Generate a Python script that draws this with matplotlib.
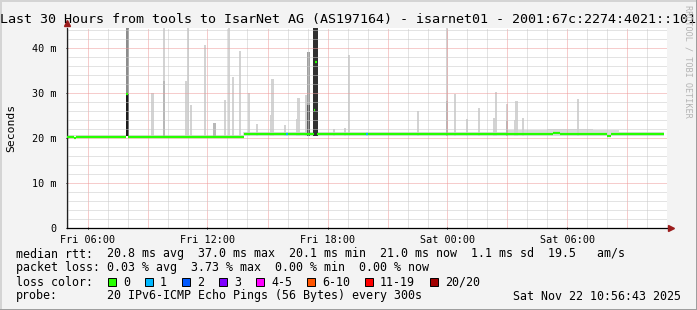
import numpy as np
import matplotlib
matplotlib.use("Agg")
import matplotlib.pyplot as plt
from matplotlib.patches import Rectangle
from matplotlib.lines import Line2D

W, H = 697, 310
MONO = "DejaVu Sans Mono"

title = "Last 30 Hours from tools to IsarNet AG (AS197164) - isarnet01 - 2001:67c:2274:4021::101"

# x axis: hours since Fri 00:00
x_ticks = [6, 12, 18, 24, 30]
x_labels = ["Fri 06:00", "Fri 12:00", "Fri 18:00", "Sat 00:00", "Sat 06:00"]
y_ticks = [0, 10, 20, 30, 40]
y_labels = ["0", "10 m", "20 m", "30 m", "40 m"]

# median rtt (ms), step segments: value med_v[i] from med_t[i] to med_t[i+1]
med_t = [4.96, 5.30, 5.42, 7.94, 8.02, 13.82, 17.31, 17.39, 17.47, 29.28, 29.62, 32.00, 32.20, 34.83]
med_v = [20.3, 20.1, 20.3, 29.8, 20.3, 20.9, 26.3, 37.0, 20.9, 21.2, 20.9, 20.6, 20.9]

# samples with 1 lost ping
loss1_t = [15.98, 19.99]
loss1_v = [20.9, 20.9]

# light smoke band just above the median
band_t = [4.96, 8.1, 13.8, 19.5, 22.0, 27.0, 29.0, 31.3, 32.6, 34.83]
band_top = [20.7, 20.8, 21.3, 21.4, 21.5, 21.9, 22.1, 21.8, 21.4]

# smoke spikes (outlier pings)
spike_t = [9.26, 9.83, 10.93, 11.03, 11.18, 11.88, 12.35, 12.88, 13.08, 13.28,
           13.63, 14.08, 14.48, 15.18, 15.25, 15.88, 16.50, 16.55, 16.93, 18.33,
           18.88, 19.08, 22.53, 23.98, 24.38, 24.98, 25.58, 26.35, 26.42, 26.98,
           27.40, 27.45, 27.78, 30.53]
spike_top = [30.0, 44.5, 32.7, 44.5, 27.5, 40.7, 23.3, 28.5, 44.5, 33.6,
             39.3, 30.0, 23.1, 25.1, 33.2, 23.0, 24.2, 29.0, 29.6, 22.0,
             22.3, 38.4, 26.0, 44.5, 29.9, 24.3, 26.7, 24.5, 30.2, 27.7,
             24.0, 28.2, 24.6, 28.7]
spike_mid = [0, 32.8, 0, 0, 0, 0, 23.3, 0, 0, 0,
             0, 0, 0, 0, 0, 0, 0, 0, 0, 0,
             0, 0, 0, 28.2, 0, 0, 0, 0, 0, 23.8,
             0, 0, 0, 0]

# dense / lossy columns
col_t = [7.98, 17.03, 17.35, 17.45]
col_low = [29.8, 27.3, 44.5, 44.5]
col_top = [44.5, 39.2, 44.5, 44.5]

loss_names = ["0", "1", "2", "3", "4-5", "6-10", "11-19", "20/20"]
loss_colors = ["#26ff00", "#00b8ff", "#0059ff", "#7e00ff", "#ff00ff", "#ff5500", "#ff0000", "#a10000"]

stat_lines = [
    ("median rtt:", "20.8 ms avg  37.0 ms max  20.1 ms min  21.0 ms now  1.1 ms sd  19.5   am/s"),
    ("packet loss:", "0.03 % avg  3.73 % max  0.00 % min  0.00 % now"),
]
probe_text = "20 IPv6-ICMP Echo Pings (56 Bytes) every 300s"
stamp = "Sat Nov 22 10:56:43 2025"


def fx(x):
    return x / W


def fy(y):
    return 1 - y / H


fig = plt.figure(figsize=(W / 100, H / 100), dpi=100, facecolor="#f3f3f3")
ax = fig.add_axes([fx(66.7), fy(228.3), (667.3 - 66.7) / W, (228.3 - 28.0) / H])
ax.set_facecolor("white")
ax.set_xlim(4.96, 34.99)
ax.set_ylim(0, 44.5)

# grid (rrdtool draws it over the smoke)
for h in range(5, 35):
    major = h % 3 == 0
    ax.axvline(h, color="#ee9a9a" if major else "#c8c8c8", lw=0.72,
               ls=(0, (1, 1)), zorder=2.5)
for v in range(2, 45, 2):
    major = v % 10 == 0
    ax.axhline(v, color="#ee9a9a" if major else "#c8c8c8", lw=0.72,
               ls=(0, (1, 1)), zorder=2.5)

# smoke
base = 20.5
ax.fill_between(band_t, base, band_top + [band_top[-1]], step="post",
                color="#dcdcdc", lw=0, zorder=2)
ax.bar(spike_t, np.array(spike_top) - base, bottom=base, width=0.13,
       color="#d3d3d3", lw=0, zorder=2)
mid = np.array(spike_mid)
sel = mid > 0
ax.bar(np.array(spike_t)[sel], mid[sel] - base, bottom=base, width=0.13,
       color="#b8b8b8", lw=0, zorder=2.1)

upper_c = ["#8c8c8c", "#a0a0a0", "#404040", "#404040"]
lower_c = ["#1c1c1c", "#5c5c5c", "#303030", "#303030"]
widths = [0.16, 0.15, 0.12, 0.12]
for i in range(len(col_t)):
    ax.bar(col_t[i], col_top[i] - base, bottom=base, width=widths[i],
           color=upper_c[i], lw=0, zorder=2.2)
    ax.bar(col_t[i], col_low[i] - base, bottom=base, width=widths[i],
           color=lower_c[i], lw=0, zorder=2.3)

# median line
ax.hlines(med_v, med_t[:-1], med_t[1:], color=loss_colors[0], lw=1.6, zorder=3)
ax.hlines(loss1_v, np.array(loss1_t) - 0.05, np.array(loss1_t) + 0.05,
          color=loss_colors[1], lw=1.6, zorder=3.1)

# axes
for s in ["top", "right"]:
    ax.spines[s].set_visible(False)
ax.spines["left"].set_color("#202020")
ax.spines["bottom"].set_color("#000000")
ax.spines["left"].set_linewidth(0.9)
ax.spines["bottom"].set_linewidth(0.9)
ax.set_xticks(x_ticks)
ax.set_xticklabels(x_labels, fontfamily=MONO, fontsize=7.3)
ax.set_yticks(y_ticks)
ax.set_yticklabels(y_labels, fontfamily=MONO, fontsize=7.3)
ax.tick_params(axis="x", length=2, width=0.7, pad=4, direction="inout")
ax.tick_params(axis="y", length=2, width=0.7, pad=6, direction="inout")

ax.plot([0], [1 + 5 / 200], marker="^", ms=5, color="#9b1c1c",
        transform=ax.transAxes, clip_on=False, zorder=5)
ax.plot([1 + 3.5 / 600], [0], marker=">", ms=5, color="#9b1c1c",
        transform=ax.transAxes, clip_on=False, zorder=5)

# texts
fig.text(fx(348.5), fy(19), title, ha="center", va="center",
         fontfamily=MONO, fontsize=9.6, color="#000000")
fig.text(fx(11), fy(128), "Seconds", rotation=90, ha="center", va="center",
         fontfamily=MONO, fontsize=8.2)
fig.text(fx(688), fy(5), "RRDTOOL / TOBI OETIKER", rotation=270, ha="center",
         va="top", fontfamily=MONO, fontsize=6.1, color="#b4b4b4")

cw = 7.0
lx, vx = 16, 107
rows_y = [254, 268, 282, 296]
for (lab, val), y in zip(stat_lines, rows_y):
    fig.text(fx(lx), fy(y), lab, ha="left", va="center", fontfamily=MONO, fontsize=8.4)
    fig.text(fx(vx), fy(y), val, ha="left", va="center", fontfamily=MONO, fontsize=8.4)

fig.text(fx(lx), fy(rows_y[2]), "loss color:", ha="left", va="center",
         fontfamily=MONO, fontsize=8.4)
sx = 108.0
for name, c in zip(loss_names, loss_colors):
    fig.add_artist(Rectangle((fx(sx), fy(286)), 8 / W, 8 / H, transform=fig.transFigure,
                             facecolor=c, edgecolor="black", lw=0.7))
    fig.text(fx(sx + 15), fy(rows_y[2]), name, ha="left", va="center",
             fontfamily=MONO, fontsize=8.4)
    sx += 15 + cw * len(name) + 15

fig.text(fx(lx), fy(rows_y[3]), "probe:", ha="left", va="center", fontfamily=MONO, fontsize=8.4)
fig.text(fx(vx), fy(rows_y[3]), probe_text, ha="left", va="center", fontfamily=MONO, fontsize=8.4)
fig.text(fx(681), fy(rows_y[3]), stamp, ha="right", va="center", fontfamily=MONO, fontsize=8.4)

# 3d frame
fig.add_artist(Line2D([0, 1], [fy(0.5)] * 2, transform=fig.transFigure, color="#d4d4d4", lw=1.4))
fig.add_artist(Line2D([fx(0.5)] * 2, [0, 1], transform=fig.transFigure, color="#d4d4d4", lw=1.4))
fig.add_artist(Line2D([0, 1], [fy(309.5)] * 2, transform=fig.transFigure, color="#9c9c9c", lw=1.4))
fig.add_artist(Line2D([fx(696.5)] * 2, [0, 1], transform=fig.transFigure, color="#9c9c9c", lw=1.4))

fig.savefig("out.png", dpi=100, facecolor=fig.get_facecolor())
